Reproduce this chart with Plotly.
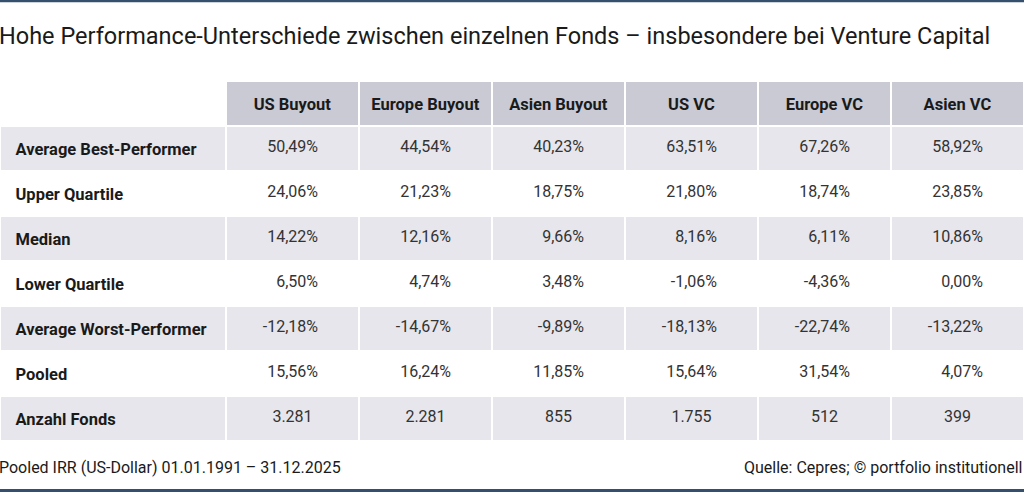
import plotly.graph_objects as go

# Daten aus der Tabelle
spalten = ['US Buyout', 'Europe Buyout', 'Asien Buyout', 'US VC', 'Europe VC', 'Asien VC']
zeilen = ['Average Best-Performer', 'Upper Quartile', 'Median', 'Lower Quartile',
          'Average Worst-Performer', 'Pooled', 'Anzahl Fonds']

us_buyout = ['50,49%', '24,06%', '14,22%', '6,50%', '-12,18%', '15,56%', '3.281']
europe_buyout = ['44,54%', '21,23%', '12,16%', '4,74%', '-14,67%', '16,24%', '2.281']
asien_buyout = ['40,23%', '18,75%', '9,66%', '3,48%', '-9,89%', '11,85%', '855']
us_vc = ['63,51%', '21,80%', '8,16%', '-1,06%', '-18,13%', '15,64%', '1.755']
europe_vc = ['67,26%', '18,74%', '6,11%', '-4,36%', '-22,74%', '31,54%', '512']
asien_vc = ['58,92%', '23,85%', '10,86%', '0,00%', '-13,22%', '4,07%', '399']

werte = [us_buyout, europe_buyout, asien_buyout, us_vc, europe_vc, asien_vc]

# Farben
grau_kopf = '#c9cad4'
grau_zeile = '#e6e6ec'
linie = '#34506e'
leer = 'rgba(0,0,0,0)'

fs = 16          # Schriftgroesse Werte
fs_b = 16.5      # Schriftgroesse fett
n = len(spalten)
m = len(zeilen)

# Hoehe / Lage
TOP = 81
H = 492
plot_h = H - TOP
text_off = 6     # Text etwas tiefer setzen als die Zellflaechen


def py(px):
    return (H - px) / plot_h


ist_anzahl = [z == 'Anzahl Fonds' for z in zeilen]
zeilen_farben = [grau_zeile if i % 2 == 0 else 'white' for i in range(m)]

fig = go.Figure()

# 1) Zellflaechen
fig.add_trace(go.Table(
    columnwidth=[226] + [133] * n,
    header=dict(values=[''] * (n + 1), fill_color=['white'] + [grau_kopf] * n,
                line=dict(color='white', width=2), height=45),
    cells=dict(values=[[''] * m] * (n + 1), fill_color=[zeilen_farben] * (n + 1),
               line=dict(color='white', width=2), height=45),
    domain=dict(x=[0, 1], y=[0, 1]),
))

# 2) Kopfzeile, Zeilenbeschriftung und Anzahl Fonds (zentriert)
fig.add_trace(go.Table(
    columnwidth=[226] + [133] * n,
    header=dict(
        values=[''] + ['<b>%s</b>' % s for s in spalten],
        fill_color=leer, line=dict(color=leer, width=0),
        align='center', height=45,
        font=dict(family='Roboto', size=fs_b, color='#1a1a1a'),
    ),
    cells=dict(
        values=[['\u00a0\u2009<b>%s</b>' % z for z in zeilen]]
        + [[v if a else '' for v, a in zip(s, ist_anzahl)] for s in werte],
        fill_color=leer, line=dict(color=leer, width=0),
        align=['left'] + ['center'] * n, height=45,
        font=dict(family='Roboto', size=[fs_b] + [fs] * n,
                  color=['#1a1a1a'] + ['#333333'] * n),
    ),
    domain=dict(x=[0, 1], y=[0, py(TOP + text_off)]),
))

# 3) Prozentwerte rechtsbuendig, mit Abstand zum Zellrand
breiten = [226]
spalten_text = [[''] * m]
for s in werte:
    breiten += [100, 33]
    spalten_text += [[v if not a else '' for v, a in zip(s, ist_anzahl)], [''] * m]

fig.add_trace(go.Table(
    columnwidth=breiten,
    header=dict(values=[''] * len(breiten), fill_color=leer,
                line=dict(color=leer, width=0), height=45),
    cells=dict(
        values=spalten_text,
        fill_color=leer, line=dict(color=leer, width=0),
        align='right', height=45,
        font=dict(family='Roboto', size=fs, color='#333333'),
    ),
    domain=dict(x=[0, 1], y=[0, py(TOP + text_off)]),
))

fig.update_layout(
    width=1024, height=492,
    margin=dict(l=0, r=0, t=TOP, b=0),
    paper_bgcolor='white',
    showlegend=False,
    annotations=[
        dict(text='Hohe Performance-Unterschiede zwischen einzelnen Fonds – insbesondere bei Venture Capital',
             x=-0.003, y=py(36), xref='paper', yref='paper', xanchor='left', yanchor='middle', showarrow=False,
             font=dict(family='Roboto', size=23.5, color='#1a1a1a')),
        dict(text='Pooled IRR (US-Dollar) 01.01.1991 – 31.12.2025',
             x=-0.003, y=py(467), xref='paper', yref='paper', xanchor='left', yanchor='middle', showarrow=False,
             font=dict(family='Roboto', size=16, color='#1a1a1a')),
        dict(text='Quelle: Cepres; © portfolio institutionell',
             x=1, y=py(467), xref='paper', yref='paper', xanchor='right', yanchor='middle', showarrow=False,
             font=dict(family='Roboto', size=16, color='#1a1a1a')),
    ],
    shapes=[
        dict(type='line', xref='paper', yref='paper', x0=0, x1=1, y0=py(1), y1=py(1),
             line=dict(color=linie, width=2.5)),
        dict(type='line', xref='paper', yref='paper', x0=0, x1=1, y0=py(490.5), y1=py(490.5),
             line=dict(color=linie, width=3)),
    ],
)

fig.write_html('out.html', config={'displayModeBar': False},
               post_script="document.body.style.margin='0px';")
